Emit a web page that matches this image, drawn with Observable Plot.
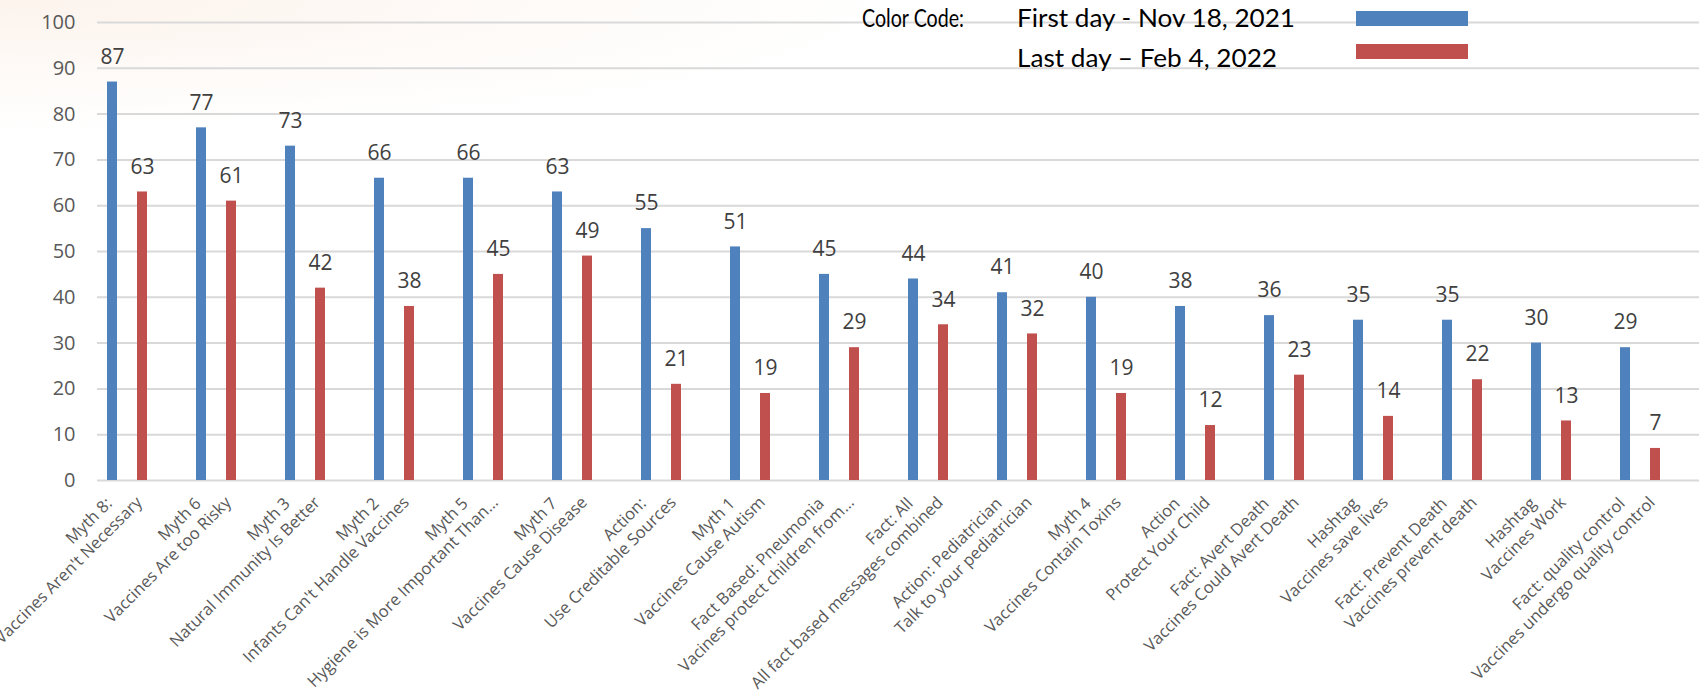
<!DOCTYPE html>
<html>
<head>
<meta charset="utf-8">
<script src="https://cdn.jsdelivr.net/npm/d3@7"></script>
<script src="https://cdn.jsdelivr.net/npm/@observablehq/plot@0.6"></script>
<style>
  html, body { margin: 0; padding: 0; background: #ffffff; }
  #wrap {
    position: relative; width: 1708px; height: 690px; overflow: hidden;
    background: radial-gradient(ellipse 900px 130px at 0px 0px, #fcf3ec 0%, #fefaf7 55%, #ffffff 100%);
  }
  #wrap svg.plot-chart { display: block; }
  #legend { position: absolute; left: 0; top: 0; }
</style>
</head>
<body>
<div id="wrap"></div>
<script>
// ---- data ----
const line1 = [
  "Myth 8:", "Myth 6", "Myth 3", "Myth 2", "Myth 5", "Myth 7", "Action:", "Myth 1",
  "Fact Based: Pneumonia", "Fact: All", "Action: Pediatrician", "Myth 4", "Action",
  "Fact: Avert Death", "Hashtag", "Fact: Prevent Death", "Hashtag", "Fact: quality control"
];
const line2 = [
  "Vaccines Aren't Necessary", "Vaccines Are too Risky", "Natural Immunity Is Better",
  "Infants Can't Handle Vaccines", "Hygiene is More Important Than…", "Vaccines Cause Disease",
  "Use Creditable Sources", "Vaccines Cause Autism", "Vacines protect children from…",
  "All fact based messages combined", "Talk to your pediatrician", "Vaccines Contain Toxins",
  "Protect Your Child", "Vaccines Could Avert Death", "Vaccines save lives",
  "Vaccines prevent death", "Vaccines Work", "Vaccines undergo quality control"
];
const firstDay = [87, 77, 73, 66, 66, 63, 55, 51, 45, 44, 41, 40, 38, 36, 35, 35, 30, 29];
const lastDay  = [63, 61, 42, 38, 45, 49, 21, 19, 29, 34, 32, 19, 12, 23, 14, 22, 13, 7];
const yTicks = [0, 10, 20, 30, 40, 50, 60, 70, 80, 90, 100];
const legendTitle = "Color Code:";
const seriesNames = ["First day - Nov 18, 2021", "Last day \u2013 Feb 4, 2022"];
const seriesColors = ["#4f81bd", "#c0504d"];

// ---- table built from the arrays ----
const cats = line1.map((d, i) => d + " | " + line2[i]);
const rows = cats.map((c, i) => ({cat: c, first: firstDay[i], last: lastDay[i], l1: line1[i], l2: line2[i]}));
const FONT = "Open Sans";

const chart = Plot.plot({
  width: 1708,
  height: 690,
  marginLeft: 97,
  marginRight: 9,
  marginTop: 22,
  marginBottom: 210,
  style: {background: "transparent", fontFamily: "'Open Sans', sans-serif", overflow: "visible"},
  x: {domain: cats, padding: 0, axis: null},
  y: {domain: [0, 100], axis: null},
  marks: [
    Plot.ruleY(yTicks, {stroke: "#d9d9d9", strokeWidth: 2}),
    Plot.text(yTicks, {y: d => d, frameAnchor: "left", dx: -22, textAnchor: "end",
      text: d => String(d), fontSize: 20, fontFamily: FONT, fill: "#595959"}),
    Plot.barY(rows, {x: "cat", y: "first", fill: seriesColors[0], insetLeft: 10, insetRight: 69}),
    Plot.barY(rows, {x: "cat", y: "last", fill: seriesColors[1], insetLeft: 40, insetRight: 39}),
    Plot.text(rows, {x: "cat", y: "first", text: d => String(d.first), dx: -29.5, dy: -25,
      fontSize: 21, fontFamily: FONT, fill: "#404040"}),
    Plot.text(rows, {x: "cat", y: "last", text: d => String(d.last), dx: 0.5, dy: -25,
      fontSize: 21, fontFamily: FONT, fill: "#404040"}),
    Plot.text(rows, {x: "cat", frameAnchor: "bottom", text: "l2", rotate: -45, textAnchor: "end",
      dx: 1, dy: 23, fontSize: 16.5, fontFamily: FONT, fill: "#595959"}),
    Plot.text(rows, {x: "cat", frameAnchor: "bottom", text: "l1", rotate: -45, textAnchor: "end",
      dx: -29, dy: 24, fontSize: 16.5, fontFamily: FONT, fill: "#595959"})
  ]
});
chart.classList.add("plot-chart");
const wrap = document.getElementById("wrap");
wrap.appendChild(chart);

// ---- legend (overlaid at the top, as in the original) ----
const lg = d3.select(wrap).append("svg")
  .attr("id", "legend").attr("width", 1708).attr("height", 80)
  .style("font-family", "Lato, sans-serif");
lg.append("text").attr("x", 862).attr("y", 26.5).attr("font-size", 24.5).attr("fill", "#000")
  .attr("textLength", 102).attr("lengthAdjust", "spacingAndGlyphs").text(legendTitle);
const nameLen = [278, 260];
const nameY = [26.5, 66.5];
const swY = [11, 44];
seriesNames.forEach((n, i) => {
  lg.append("text").attr("x", 1017).attr("y", nameY[i]).attr("font-size", 24.5).attr("fill", "#000")
    .attr("textLength", nameLen[i]).attr("lengthAdjust", "spacingAndGlyphs").text(n);
  lg.append("rect").attr("x", 1356).attr("y", swY[i]).attr("width", 112).attr("height", 15)
    .attr("fill", seriesColors[i]);
});
</script>
</body>
</html>
